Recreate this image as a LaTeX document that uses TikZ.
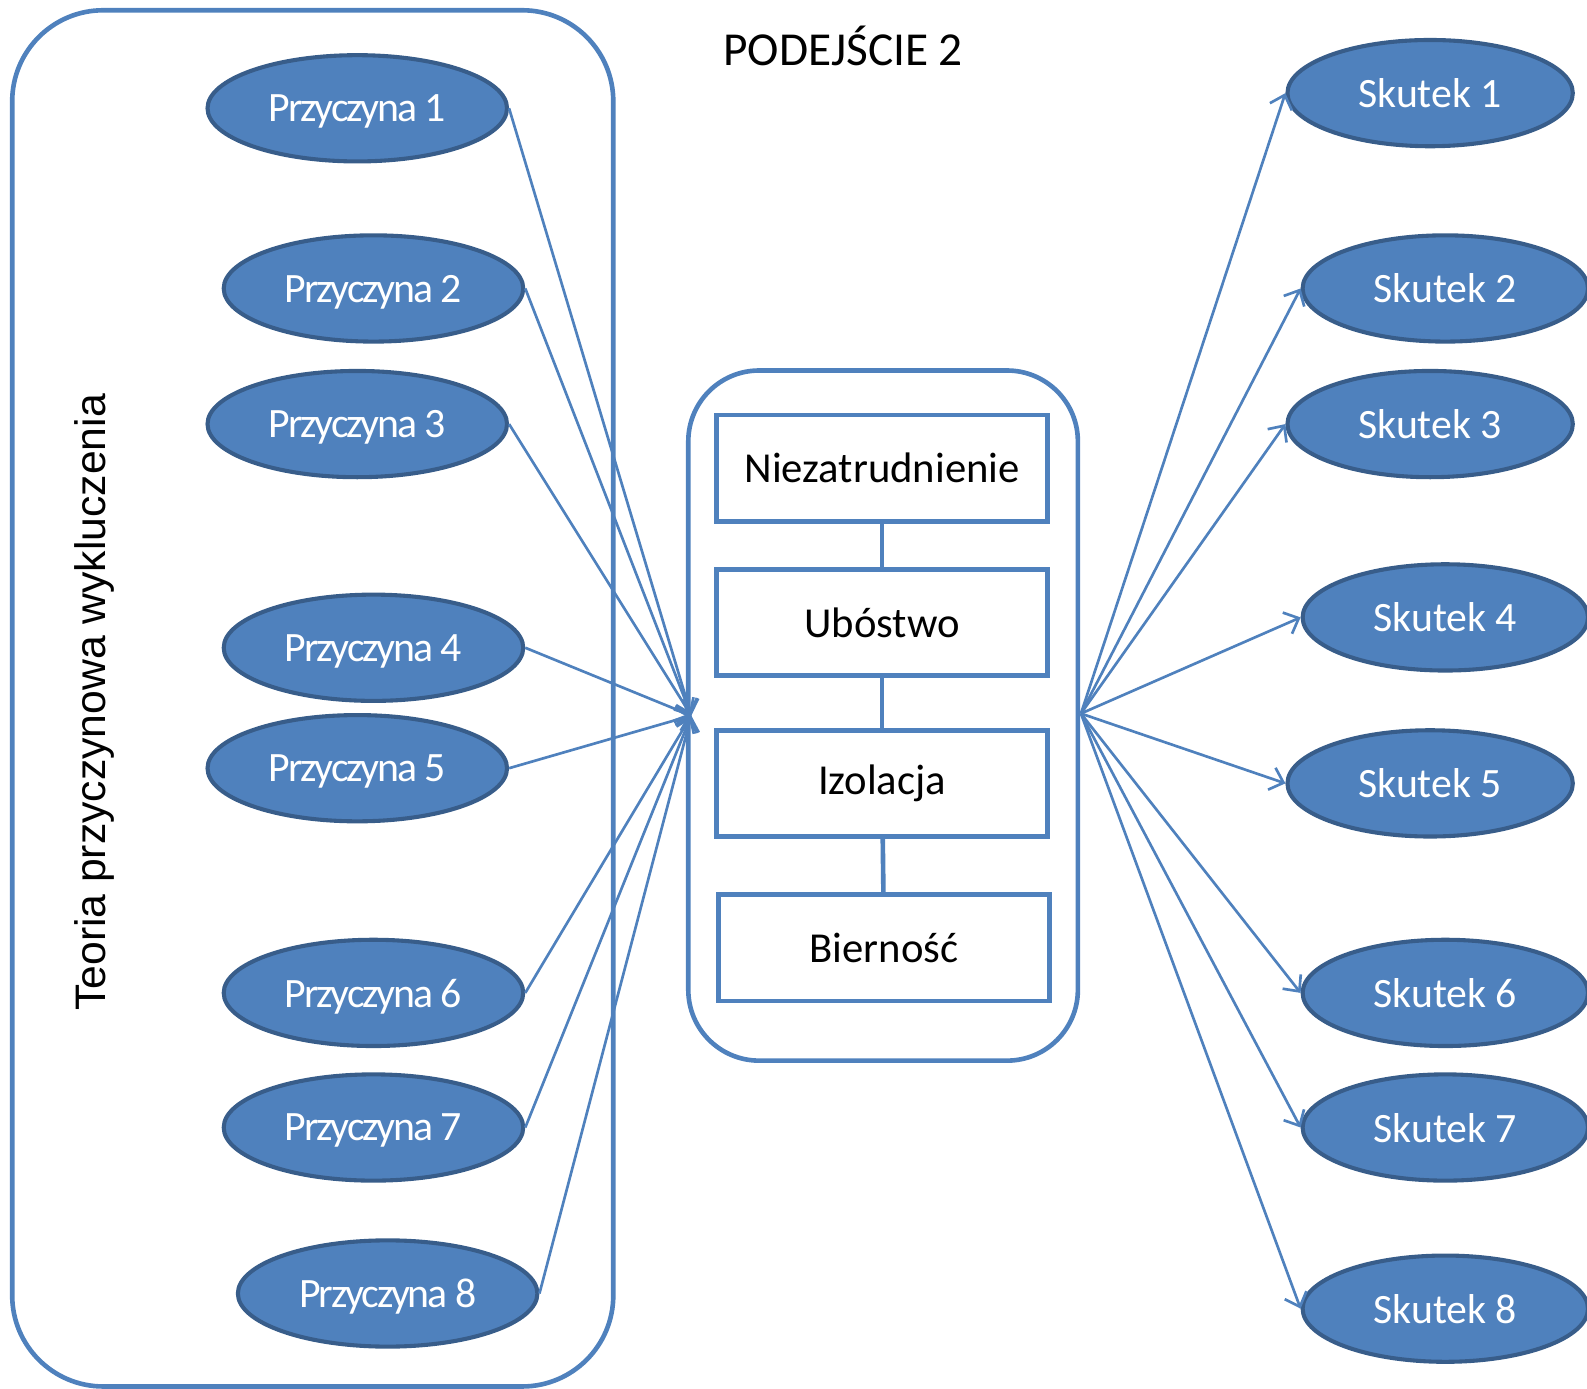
\documentclass[tikz,border=0pt]{standalone}
\usepackage{fontspec}
\setmainfont{Carlito}
\newfontfamily\arialfont{Liberation Sans}
\newfontfamily\narrowfont[LetterSpace=-5]{Carlito}
\usetikzlibrary{shapes.geometric, arrows.meta, positioning}
\definecolor{nodecolor}{RGB}{79, 129, 189}
\definecolor{bordercolor}{RGB}{56, 93, 138}

\begin{document}
\begin{tikzpicture}[
    x=0.02cm, y=-0.02cm,
    cause/.style={ellipse, draw=bordercolor, line width=2.3pt, fill=nodecolor, text=white, inner sep=0pt, text depth=0pt, minimum width=5.92cm, minimum height=2.1cm, font=\narrowfont\fontsize{23.5}{28}\selectfont},
    effect/.style={ellipse, draw=bordercolor, line width=2.3pt, fill=nodecolor, text=white, inner sep=0pt, text depth=0pt, minimum width=5.64cm, minimum height=2.1cm, font=\fontsize{23.5}{28}\selectfont},
    factor/.style={draw=nodecolor, line width=2.6pt, minimum width=6.54cm, minimum height=2.1cm, font=\fontsize{24}{28}\selectfont},
    container/.style={draw=nodecolor, line width=2.6pt},
    arrow/.style={-{Straight Barb[length=7pt, width=13pt]}, draw=nodecolor, line width=1.5pt}
]
\useasboundingbox (0,0) rectangle (1568,1372);

% Frames
\node[container, rounded corners=1.8cm, minimum width=11.88cm, minimum height=27.2cm] (theory) at (309,690) {};
\node[container, rounded corners=1.4cm, minimum width=7.7cm, minimum height=13.64cm] (core) at (872.5,707) {};

% Titles
\node[font=\fontsize{26.6}{30}\selectfont] (title) at (833,45) {PODEJŚCIE 2};
\node[rotate=90, font=\arialfont\fontsize{24}{28}\selectfont] (theorylabel) at (93,694) {Teoria przyczynowa wykluczenia};

% Causes
\node[cause] (c1) at (353,107) {Przyczyna 1};
\node[cause] (c2) at (369,285) {Przyczyna 2};
\node[cause] (c3) at (353,419) {Przyczyna 3};
\node[cause] (c4) at (369,640) {Przyczyna 4};
\node[cause] (c5) at (353,759) {Przyczyna 5};
\node[cause] (c6) at (369,981) {Przyczyna 6};
\node[cause] (c7) at (369,1114) {Przyczyna 7};
\node[cause] (c8) at (383,1278) {Przyczyna 8};

% Factors
\node[factor] (unemp) at (871.5,462.5) {Niezatrudnienie};
\node[factor] (poverty) at (871.5,615) {Ubóstwo};
\node[factor] (isol) at (871.5,774) {Izolacja};
\node[factor] (passive) at (873.5,936.5) {Bierność};

\draw[container] (unemp) -- (poverty);
\draw[container] (poverty) -- (isol);
\draw[container] (isol) -- (passive);

% Effects
\node[effect] (e1) at (1413,92) {Skutek 1};
\node[effect] (e2) at (1428,285) {Skutek 2};
\node[effect] (e3) at (1413,419) {Skutek 3};
\node[effect] (e4) at (1428,610) {Skutek 4};
\node[effect] (e5) at (1413,774) {Skutek 5};
\node[effect] (e6) at (1428,981) {Skutek 6};
\node[effect] (e7) at (1428,1114) {Skutek 7};
\node[effect] (e8) at (1428,1293) {Skutek 8};

% Flow
\coordinate (in) at (683,707);
\coordinate (out) at (1068,705);

\draw[arrow] (c1.east) -- (in);
\draw[arrow] (c2.east) -- (in);
\draw[arrow] (c3.east) -- (in);
\draw[arrow] (c4.east) -- (in);
\draw[arrow] (c5.east) -- (in);
\draw[arrow] (c6.east) -- (in);
\draw[arrow] (c7.east) -- (in);
\draw[arrow] (c8.east) -- (in);

\draw[arrow] (out) -- (e1.west);
\draw[arrow] (out) -- (e2.west);
\draw[arrow] (out) -- (e3.west);
\draw[arrow] (out) -- (e4.west);
\draw[arrow] (out) -- (e5.west);
\draw[arrow] (out) -- (e6.west);
\draw[arrow] (out) -- (e7.west);
\draw[arrow] (out) -- (e8.west);

\end{tikzpicture}
\end{document}
